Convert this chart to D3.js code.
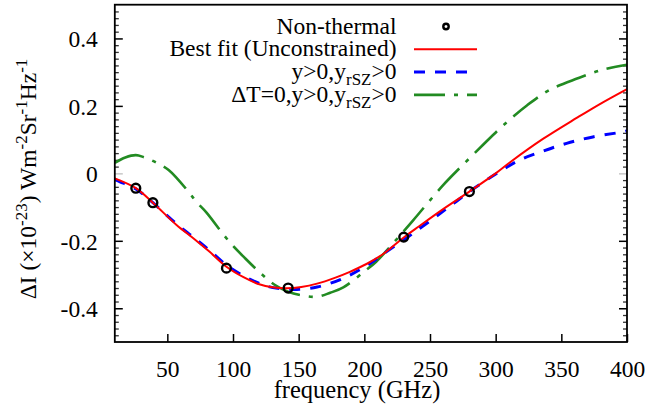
<!DOCTYPE html>
<html>
<head>
<meta charset="utf-8">
<script src="https://cdn.jsdelivr.net/npm/d3@7"></script>
<style>
  body { margin: 0; background: #fff; }
  text { font-family: "Liberation Serif", "Times New Roman", serif; fill: #000; }
</style>
</head>
<body>
<div id="graph1"></div>
<script>
// frequencies in GHz, dI in 1e-23 W m^-2 Sr^-1 Hz^-1
var obs_freq = [26, 39, 95, 142, 230, 280];
var obs_val = [-0.044, -0.087, -0.281, -0.340, -0.189, -0.054];

var fit_freq = [10, 26, 39, 57, 70, 82, 95, 108, 120, 130, 141, 152, 164, 178, 189, 202, 214, 230, 242, 260, 280, 300, 311, 336, 362, 380, 400];
var fit_val = [-0.015, -0.044, -0.087, -0.153, -0.193, -0.232, -0.277, -0.308, -0.329, -0.338, -0.341, -0.337, -0.327, -0.309, -0.292, -0.268, -0.240, -0.190, -0.156, -0.106, -0.054, 0.000, 0.033, 0.102, 0.165, 0.207, 0.250];

var pos_freq = [10, 14, 26, 39, 57, 70, 82, 95, 108, 123, 134, 146, 164, 184, 202, 217, 237, 268, 280, 301, 318, 336, 354, 374, 397, 400];
var pos_val = [-0.018, -0.025, -0.046, -0.087, -0.150, -0.190, -0.228, -0.272, -0.304, -0.331, -0.341, -0.344, -0.337, -0.311, -0.273, -0.232, -0.178, -0.089, -0.054, 0.000, 0.039, 0.066, 0.089, 0.108, 0.123, 0.126];

var dt0_freq = [10, 18, 26, 32, 42, 51, 66, 72, 80, 93, 100, 108, 121, 132, 142, 153, 164, 174, 184, 200, 209, 222, 237, 260, 275, 291, 306, 324, 341, 362, 382, 400];
var dt0_val = [0.031, 0.047, 0.054, 0.048, 0.031, 0.010, -0.054, -0.084, -0.117, -0.183, -0.215, -0.247, -0.296, -0.331, -0.351, -0.362, -0.366, -0.354, -0.338, -0.291, -0.262, -0.207, -0.140, -0.035, 0.025, 0.087, 0.143, 0.202, 0.247, 0.281, 0.308, 0.322];

var x_ticks = [50, 100, 150, 200, 250, 300, 350, 400];
var y_ticks = [-0.4, -0.2, 0, 0.2, 0.4];
var y_minor = d3.range(-48, 49, 2).filter(function(d){ return d % 20 != 0; }).map(function(d){ return d/100; });

var legend_labels = ["Non-thermal", "Best fit (Unconstrained)", "y>0,y|rSZ|>0", "\u0394T=0,y>0,y|rSZ|>0"];

function make_plot(){
  var width = 648, height = 411;
  var left = 114.8, right = 627, top = 4.7, bottom = 342;

  var svg = d3.select("#graph1").append("svg")
    .attr("width", width)
    .attr("height", height);

  var xScale = d3.scaleLinear().domain([10, 400]).range([left, right]);
  var yScale = d3.scaleLinear().domain([-0.5, 0.5]).range([bottom, top]);

  // minor y ticks on both sides, inward
  svg.append("g")
    .attr("transform", "translate(" + left + ",0)")
    .call(d3.axisRight(yScale).tickValues(y_minor).tickSize(4).tickFormat(""))
    .call(function(g){ g.select(".domain").remove(); g.selectAll("line").attr("stroke", "#333").attr("stroke-width", 1.3); });
  svg.append("g")
    .attr("transform", "translate(" + right + ",0)")
    .call(d3.axisLeft(yScale).tickValues(y_minor).tickSize(4).tickFormat(""))
    .call(function(g){ g.select(".domain").remove(); g.selectAll("line").attr("stroke", "#333").attr("stroke-width", 1.3); });

  // major y ticks
  svg.append("g")
    .attr("transform", "translate(" + left + ",0)")
    .call(d3.axisLeft(yScale).tickValues(y_ticks).tickSize(-8).tickPadding(17)
      .tickFormat(function(d){ return d == 0 ? "0" : d3.format(".1f")(d).replace("\u2212", "-"); }))
    .call(function(g){
      g.select(".domain").remove();
      g.selectAll("line").attr("stroke", function(d){ return d == 0 ? "#c8c8c8" : "#000"; }).attr("stroke-width", 1.5);
      g.selectAll("text").attr("font-size", "23.5px").attr("dy", "0.36em");
    });
  svg.append("g")
    .attr("transform", "translate(" + right + ",0)")
    .call(d3.axisRight(yScale).tickValues(y_ticks).tickSize(-8).tickFormat(""))
    .call(function(g){
      g.select(".domain").remove();
      g.selectAll("line").attr("stroke", function(d){ return d == 0 ? "#c8c8c8" : "#000"; }).attr("stroke-width", 1.5);
    });

  // x ticks
  svg.append("g")
    .attr("transform", "translate(0," + bottom + ")")
    .call(d3.axisBottom(xScale).tickValues(x_ticks).tickSize(-8).tickPadding(18))
    .call(function(g){
      g.select(".domain").remove();
      g.selectAll("line").attr("stroke", "#000").attr("stroke-width", 1.5);
      g.selectAll("text").attr("font-size", "23.5px");
    });

  // curves
  var line = d3.line()
    .x(function(d){ return xScale(d[0]); })
    .y(function(d){ return yScale(d[1]); })
    .curve(d3.curveCatmullRom.alpha(0.5));

  svg.append("clipPath").attr("id", "clip")
    .append("rect").attr("x", left).attr("y", top).attr("width", right - left).attr("height", bottom - top);

  var series = [
    {f: dt0_freq, v: dt0_val, color: "#228b22", w: 2.6, dash: "31,9,4,9"},
    {f: pos_freq, v: pos_val, color: "#0000ff", w: 3, dash: "11,10"},
    {f: fit_freq, v: fit_val, color: "#ff0000", w: 2, dash: null}
  ];
  series.forEach(function(s){
    svg.append("path")
      .datum(d3.zip(s.f, s.v))
      .attr("clip-path", "url(#clip)")
      .attr("fill", "none")
      .attr("stroke", s.color)
      .attr("stroke-width", s.w)
      .attr("stroke-dasharray", s.dash)
      .attr("d", line);
  });

  svg.selectAll(".point")
    .data(d3.zip(obs_freq, obs_val))
  .enter().append("circle")
    .attr("class", "point")
    .attr("cx", function(d){ return xScale(d[0]); })
    .attr("cy", function(d){ return yScale(d[1]); })
    .attr("r", 4.4)
    .attr("fill", "none")
    .attr("stroke", "#000")
    .attr("stroke-width", 2.4);

  // frame
  svg.append("rect")
    .attr("x", left).attr("y", top)
    .attr("width", right - left).attr("height", bottom - top)
    .attr("fill", "none").attr("stroke", "#000").attr("stroke-width", 1.8);

  // legend
  var leg = svg.append("g");
  var styles = [null, series[2], series[1], series[0]];
  legend_labels.forEach(function(lab, i){
    var by = 33.5 + 22.8 * i;
    var t = leg.append("text")
      .attr("x", 396.5).attr("y", by)
      .attr("text-anchor", "end")
      .attr("font-size", "23.5px");
    var parts = lab.split("|");
    parts.forEach(function(p, j){
      if (j % 2 == 1) {
        t.append("tspan").attr("font-size", "17px").attr("dy", 6).text(p);
      } else if (j > 0) {
        t.append("tspan").attr("dy", -6).text(p);
      } else {
        t.append("tspan").text(p);
      }
    });
    var cy = by - 7;
    if (i == 0) {
      leg.append("circle").attr("cx", 446).attr("cy", cy).attr("r", 2.7)
        .attr("fill", "none").attr("stroke", "#000").attr("stroke-width", 2.4);
    } else {
      var s = styles[i];
      leg.append("line")
        .attr("x1", 414).attr("x2", 477).attr("y1", cy).attr("y2", cy)
        .attr("stroke", s.color).attr("stroke-width", s.w)
        .attr("stroke-dasharray", s.dash);
    }
  });

  // axis labels
  svg.append("text")
    .attr("x", 357).attr("y", 398)
    .attr("text-anchor", "middle")
    .attr("font-size", "24.5px")
    .text("frequency (GHz)");

  var yl = svg.append("text")
    .attr("transform", "translate(36," + 179 + ") rotate(-90)")
    .attr("text-anchor", "middle")
    .attr("font-size", "23.5px");
  var ylab = [["\u0394I (\u00d710", 0], ["-23", 1], [") Wm", 0], ["-2", 1], ["Sr", 0], ["-1", 1], ["Hz", 0], ["-1", 1]];
  ylab.forEach(function(p, j){
    var ts = yl.append("tspan").text(p[0]);
    if (p[1] == 1) ts.attr("font-size", "17px").attr("dy", -9);
    else if (j > 0) ts.attr("dy", 9);
  });
}
make_plot();
</script>
</body>
</html>
